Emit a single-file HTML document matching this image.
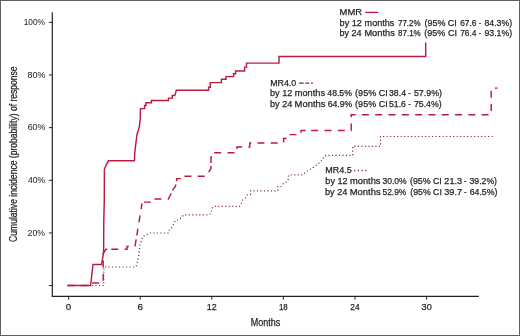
<!DOCTYPE html>
<html><head><meta charset="utf-8">
<style>
html,body{margin:0;padding:0;background:#fff;}
body{width:520px;height:336px;overflow:hidden;position:relative;}
#frame{position:absolute;left:0;top:0;width:520px;height:336px;box-sizing:border-box;border:1px solid #616161;}
svg{position:absolute;left:0;top:0;will-change:transform;filter:blur(0.3px);}
text{font-family:"Liberation Sans",sans-serif;fill:#262626;stroke:#262626;stroke-width:0.25;}
.tk{stroke-width:0.05;fill:#2a2a2a;stroke:#2a2a2a;}
</style></head><body>
<div id="frame"></div>
<svg width="520" height="336" viewBox="0 0 520 336">
<!-- axes -->
<g stroke="#222" stroke-width="1.2" fill="none">
<path d="M52.3 12.2 V296.5"/>
<path d="M51.7 296.4 H478.8"/>
<path stroke-width="1" d="M48.9 22.35H52.3M48.9 75H52.3M48.9 127.65H52.3M48.9 180.3H52.3M48.9 232.95H52.3M48.9 285.6H52.3"/>
<path stroke-width="1" d="M68.6 296.5V299.6M140.2 296.5V299.6M211.8 296.5V299.6M283.4 296.5V299.6M355 296.5V299.6M426.6 296.5V299.6"/>
</g>
<text x="339.63" y="14.80" font-size="9" textLength="22.49" lengthAdjust="spacingAndGlyphs">MMR</text>
<text x="270.14" y="85.50" font-size="9" textLength="26.07" lengthAdjust="spacingAndGlyphs">MR4.0</text>
<text x="325.19" y="172.90" font-size="9" textLength="26.49" lengthAdjust="spacingAndGlyphs">MR4.5</text>
<text x="339.57" y="25.60" font-size="9" textLength="22.32" lengthAdjust="spacingAndGlyphs">by 12</text>
<text x="364.62" y="25.60" font-size="9" textLength="29.81" lengthAdjust="spacingAndGlyphs">months</text>
<text x="397.97" y="25.60" font-size="9" textLength="22.61" lengthAdjust="spacingAndGlyphs">77.2%</text>
<text x="424.41" y="25.60" font-size="9" textLength="32.45" lengthAdjust="spacingAndGlyphs">(95% CI</text>
<text x="460.23" y="25.60" font-size="9" textLength="16.27" lengthAdjust="spacingAndGlyphs">67.6</text>
<text x="478.81" y="25.60" font-size="9" textLength="2.44" lengthAdjust="spacingAndGlyphs">-</text>
<text x="484.49" y="25.60" font-size="9" textLength="27.61" lengthAdjust="spacingAndGlyphs">84.3%)</text>
<text x="339.57" y="36.40" font-size="9" textLength="22.09" lengthAdjust="spacingAndGlyphs">by 24</text>
<text x="364.40" y="36.40" font-size="9" textLength="30.42" lengthAdjust="spacingAndGlyphs">Months</text>
<text x="398.07" y="36.40" font-size="9" textLength="22.58" lengthAdjust="spacingAndGlyphs">87.1%</text>
<text x="424.27" y="36.40" font-size="9" textLength="32.67" lengthAdjust="spacingAndGlyphs">(95% CI</text>
<text x="460.21" y="36.40" font-size="9" textLength="16.24" lengthAdjust="spacingAndGlyphs">76.4</text>
<text x="478.81" y="36.40" font-size="9" textLength="2.44" lengthAdjust="spacingAndGlyphs">-</text>
<text x="484.47" y="36.40" font-size="9" textLength="27.62" lengthAdjust="spacingAndGlyphs">93.1%)</text>
<text x="269.94" y="96.30" font-size="9" textLength="22.40" lengthAdjust="spacingAndGlyphs">by 12</text>
<text x="294.72" y="96.30" font-size="9" textLength="30.28" lengthAdjust="spacingAndGlyphs">months</text>
<text x="327.32" y="96.30" font-size="9" textLength="24.55" lengthAdjust="spacingAndGlyphs">48.5%</text>
<text x="355.11" y="96.30" font-size="9" textLength="32.61" lengthAdjust="spacingAndGlyphs">(95% CI</text>
<text x="389.04" y="96.30" font-size="9" textLength="16.96" lengthAdjust="spacingAndGlyphs">38.4</text>
<text x="408.33" y="96.30" font-size="9" textLength="2.48" lengthAdjust="spacingAndGlyphs">-</text>
<text x="413.91" y="96.30" font-size="9" textLength="28.07" lengthAdjust="spacingAndGlyphs">57.9%)</text>
<text x="269.95" y="107.10" font-size="9" textLength="22.37" lengthAdjust="spacingAndGlyphs">by 24</text>
<text x="294.61" y="107.10" font-size="9" textLength="30.95" lengthAdjust="spacingAndGlyphs">Months</text>
<text x="327.65" y="107.10" font-size="9" textLength="24.74" lengthAdjust="spacingAndGlyphs">64.9%</text>
<text x="355.11" y="107.10" font-size="9" textLength="32.61" lengthAdjust="spacingAndGlyphs">(95% CI</text>
<text x="388.99" y="107.10" font-size="9" textLength="16.95" lengthAdjust="spacingAndGlyphs">51.6</text>
<text x="408.33" y="107.10" font-size="9" textLength="2.48" lengthAdjust="spacingAndGlyphs">-</text>
<text x="414.00" y="107.10" font-size="9" textLength="27.65" lengthAdjust="spacingAndGlyphs">75.4%)</text>
<text x="325.37" y="184.00" font-size="9" textLength="22.28" lengthAdjust="spacingAndGlyphs">by 12</text>
<text x="350.00" y="184.00" font-size="9" textLength="30.51" lengthAdjust="spacingAndGlyphs">months</text>
<text x="382.47" y="184.00" font-size="9" textLength="24.21" lengthAdjust="spacingAndGlyphs">30.0%</text>
<text x="409.96" y="184.00" font-size="9" textLength="31.86" lengthAdjust="spacingAndGlyphs">(95% CI</text>
<text x="444.33" y="184.00" font-size="9" textLength="17.72" lengthAdjust="spacingAndGlyphs">21.3</text>
<text x="464.12" y="184.00" font-size="9" textLength="2.57" lengthAdjust="spacingAndGlyphs">-</text>
<text x="469.48" y="184.00" font-size="9" textLength="27.54" lengthAdjust="spacingAndGlyphs">39.2%)</text>
<text x="325.06" y="194.80" font-size="9" textLength="22.22" lengthAdjust="spacingAndGlyphs">by 24</text>
<text x="349.75" y="194.80" font-size="9" textLength="30.89" lengthAdjust="spacingAndGlyphs">Months</text>
<text x="382.44" y="194.80" font-size="9" textLength="23.93" lengthAdjust="spacingAndGlyphs">52.9%</text>
<text x="410.31" y="194.80" font-size="9" textLength="31.55" lengthAdjust="spacingAndGlyphs">(95% CI</text>
<text x="444.27" y="194.80" font-size="9" textLength="17.79" lengthAdjust="spacingAndGlyphs">39.7</text>
<text x="464.12" y="194.80" font-size="9" textLength="2.57" lengthAdjust="spacingAndGlyphs">-</text>
<text x="469.65" y="194.80" font-size="9" textLength="27.75" lengthAdjust="spacingAndGlyphs">64.5%)</text>
<text x="45.01" y="25.00" font-size="9" textLength="21.29" lengthAdjust="spacingAndGlyphs" text-anchor="end" class="tk">100%</text>
<text x="45.31" y="77.60" font-size="9" textLength="17.82" lengthAdjust="spacingAndGlyphs" text-anchor="end" class="tk">80%</text>
<text x="45.47" y="130.20" font-size="9" textLength="17.82" lengthAdjust="spacingAndGlyphs" text-anchor="end" class="tk">60%</text>
<text x="45.25" y="182.70" font-size="9" textLength="17.29" lengthAdjust="spacingAndGlyphs" text-anchor="end" class="tk">40%</text>
<text x="45.05" y="235.90" font-size="9" textLength="17.51" lengthAdjust="spacingAndGlyphs" text-anchor="end" class="tk">20%</text>
<text x="68.56" y="310.00" font-size="9" textLength="5.41" lengthAdjust="spacingAndGlyphs" text-anchor="middle">0</text>
<text x="140.29" y="310.00" font-size="9" textLength="5.47" lengthAdjust="spacingAndGlyphs" text-anchor="middle">6</text>
<text x="211.73" y="310.00" font-size="9" textLength="9.98" lengthAdjust="spacingAndGlyphs" text-anchor="middle">12</text>
<text x="283.37" y="310.00" font-size="9" textLength="8.83" lengthAdjust="spacingAndGlyphs" text-anchor="middle">18</text>
<text x="354.92" y="310.00" font-size="9" textLength="9.28" lengthAdjust="spacingAndGlyphs" text-anchor="middle">24</text>
<text x="426.68" y="310.00" font-size="9" textLength="10.14" lengthAdjust="spacingAndGlyphs" text-anchor="middle">30</text>
<text x="250.81" y="325.50" font-size="10.3" textLength="29.54" lengthAdjust="spacingAndGlyphs">Months</text>
<text transform="translate(17.1,241.9) rotate(-90)" x="0" y="0" font-size="10.2" textLength="175.5" lengthAdjust="spacingAndGlyphs">Cumulative incidence (probability) of response</text>

<g stroke="#bc1a3e" fill="none" stroke-width="1.3">
<path d="M365.2 12.4H378.2"/>
<path stroke="#8a2040" stroke-width="1.2" d="M299.1 83.1H303.7M305.3 83.1H309.2M311.1 83.1H312.9"/>
<path stroke="#7e2844" d="M354.2 170.5H367" stroke-dasharray="1.2 2.45"/>
</g>

<!-- curves -->
<g fill="none" stroke="#bc1a3e" stroke-width="1.45" stroke-linejoin="miter">
<!-- MR4.5 dotted -->
<path stroke="#7a2542" stroke-width="1.2" stroke-dasharray="1.1 2.4" d="M67.5 285.5 H103.8 V267 H135.6 L137 264.4 L139 253.4 L139.7 246.5 L141.8 239.4 L143.1 236.3 L145.2 235.3 L150 233 H168.5 L169.6 229.2 L172.6 226.8 L175.2 220.5 L178.6 219.6 L181.5 217.9 L183.6 214.8 H209.3 L211.5 212 L211.7 208.6 L213.5 206.4 H239.5 L241.3 203.6 L242.4 200.3 L245.5 198 L247.2 194.9 L250.6 194.5 V190.8 H277.8 V186.5 H281.5 L283.4 183.4 L286.8 182 L288.4 179 L288.7 175.2 L289.5 174.8 H303 L305.6 172.1 L309.9 169.5 L314.2 166.9 L317.7 164.3 L321.1 160.9 L322.5 160.1 L323.7 156.9 L326 155.4 H352.8 V146.3 H380.5 V136.5 H495"/>
<!-- MR4.0 dashed -->
<path d="M67.50 285.50 L74.50 285.50 M80.80 285.50 L87.80 285.50 M92.20 283.00 L99.20 283.00 M103.20 280.70 L103.20 273.70 M103.20 267.40 L103.20 260.40 M103.20 254.10 L103.20 253.50 L106.00 249.30 L107.35 249.30 M111.30 249.30 L118.30 249.30 M124.60 249.30 L127.00 249.30 L127.00 246.50 L128.80 246.50 M135.02 246.40 L136.14 239.49 M136.78 235.50 L137.90 228.59 M138.91 222.37 L140.03 215.46 M141.04 209.24 L141.99 203.38 M143.90 202.10 L150.90 202.10 M154.40 199.00 L161.40 199.00 M167.70 199.00 L168.30 199.00 L170.20 195.20 L171.13 193.26 M172.50 190.40 L172.50 190.40 L175.20 186.60 L175.96 184.39 M176.60 181.30 L176.60 178.60 L180.90 178.60 M184.40 176.30 L191.40 176.30 M197.70 176.30 L204.70 176.30 M208.70 172.09 L211.00 168.50 L211.00 166.00 M211.00 163.00 L211.00 157.00 L212.00 157.00 M214.20 152.70 L221.20 152.70 M227.50 152.70 L234.50 152.70 M237.00 148.90 L237.00 147.00 L242.10 147.00 M248.40 147.00 L249.80 147.00 L249.80 142.90 L251.30 142.90 M257.40 142.90 L264.40 142.90 M270.70 142.90 L277.70 142.90 M283.60 142.50 L283.60 138.40 L286.50 138.40 M289.50 134.60 L296.50 134.60 M301.00 132.80 L301.00 130.50 L305.70 130.50 M311.20 130.50 L318.20 130.50 M324.50 130.50 L331.50 130.50 M337.80 130.50 L344.80 130.50 M351.10 130.50 L351.20 130.50 L351.20 123.60 M351.20 117.30 L351.20 114.80 L355.70 114.80 M361.90 114.80 L368.90 114.80 M375.20 114.80 L382.20 114.80 M388.50 114.80 L395.50 114.80 M401.80 114.80 L408.80 114.80 M415.10 114.80 L422.10 114.80 M428.40 114.80 L435.40 114.80 M441.70 114.80 L448.70 114.80 M455.00 114.80 L462.00 114.80 M468.30 114.80 L475.30 114.80 M481.60 114.80 L488.60 114.80 M491.20 111.10 L491.20 104.10 M491.20 97.80 L491.20 90.80 M494.80 88.10 L497.50 88.10"/>
<!-- MMR solid -->
<path d="M67.5 285.5 H90.6 L93 264.4 H101.7 L103.6 252 L103.8 220 L104.3 200 L104.4 169.3 L105.7 166 L106.9 163.6 L108.4 160.8 H134.4 L134.8 152.4 L136.9 135 L139.3 127 L140.2 118.8 L140.5 108.6 H144.6 V105.5 H146 V102.7 H151.4 V100.4 H168.5 V98.1 H172.3 V95.4 H174.8 L175.6 92.9 L176.3 90.3 H208.6 V87.3 H210.3 V82.6 H221.4 V79.3 H226 V76.6 H233.6 V73.8 H235.6 V70.9 H244.6 V67.1 H246.5 V63.1 H279 V56.5 H425.7 V42.5"/>
</g>
</svg>
</body></html>
